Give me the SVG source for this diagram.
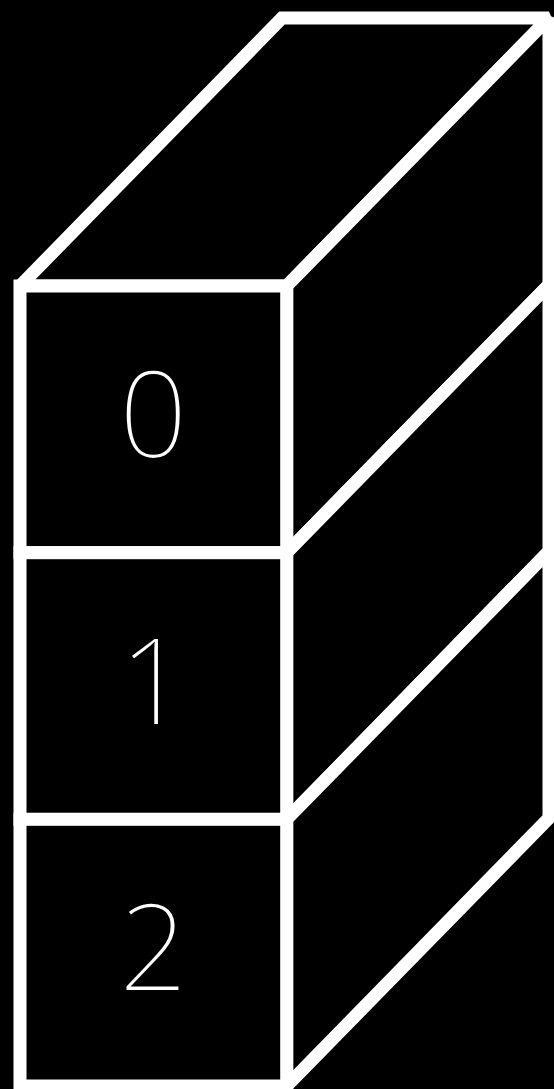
<svg xmlns="http://www.w3.org/2000/svg" width="554" height="1089" viewBox="0 0 554 1089">
  <style>
    .edge { fill: #000; stroke: #fff; stroke-width: 13; stroke-linejoin: miter; stroke-miterlimit: 2; }
    .label { fill: #fff; stroke: #000; stroke-width: 2.2; font-family: "Open Sans", "Noto Sans", sans-serif; font-weight: 300; font-size: 121px; text-anchor: middle; }
  </style>
  <rect x="0" y="0" width="554" height="1089" fill="#000"/>
  <g id="cube-0">
    <polygon class="edge" points="20,286 282,18 549,18 286.7,286"/>
    <polygon class="edge" points="286.7,286 549,18 549,284.7 286.7,552.7"/>
    <rect class="edge" x="20" y="286" width="266.7" height="266.7"/>
    <text class="label" x="153.3" y="458">0</text>
  </g>
  <g id="cube-1">
    <polygon class="edge" points="286.7,552.7 549,284.7 549,551.3 286.7,819.3"/>
    <rect class="edge" x="20" y="552.7" width="266.7" height="266.7"/>
    <text class="label" x="153.3" y="724.7">1</text>
  </g>
  <g id="cube-2">
    <polygon class="edge" points="286.7,819.3 549,551.3 549,818 286.7,1086"/>
    <rect class="edge" x="20" y="819.3" width="266.7" height="266.7"/>
    <text class="label" x="153.3" y="991.3">2</text>
  </g>
  <g id="connectors"></g>
</svg>
